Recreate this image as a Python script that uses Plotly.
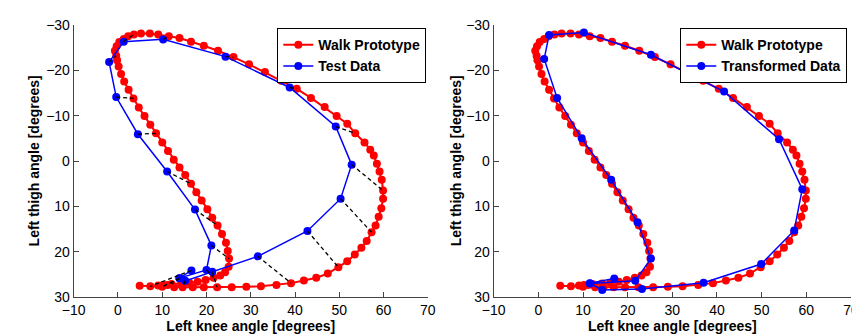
import plotly.graph_objects as go

# Walk prototype (knee angle x, thigh angle y), in time order
proto_x = [4.9, 7.3, 10.0, 12.7, 14.6, 16.9, 19.4, 22.4, 25.7, 29.0, 32.3, 35.8, 39.1, 42.0, 44.8,
           47.4, 49.8, 51.8, 53.5, 55.0, 56.2, 57.3, 58.2, 58.9, 59.5, 59.9, 59.9, 59.6, 59.1, 58.5,
           57.8, 57.0, 55.7, 53.6, 51.8, 49.4, 46.7, 43.6, 40.4, 36.9, 33.2, 29.6, 26.1, 22.6, 19.4,
           16.5, 13.9, 11.5, 9.1, 7.2, 5.2, 3.6, 2.3, 1.3, 0.3, -0.3, -0.7, -0.4, -0.2, 0.15,
           0.7, 1.4, 2.4, 3.5, 4.7, 6.0, 7.3, 8.6, 10.0, 11.3, 12.6, 13.9, 15.2, 16.5, 17.7,
           18.9, 20.2, 21.3, 22.5, 23.5, 24.4, 24.8, 25.1, 25.0, 24.2, 23.1, 21.6, 19.8, 18.0, 16.1,
           14.3, 12.1, 11.2, 10.2, 9.1]
proto_y = [27.5, 27.6, 27.7, 27.8, 27.8, 27.8, 27.8, 27.8, 27.8, 27.7, 27.6, 27.3, 26.9, 26.3, 25.7,
           24.8, 23.4, 22.1, 20.6, 19.1, 17.6, 15.7, 14.2, 12.3, 10.4, 8.3, 6.5, 4.1, 2.3, 0.6,
           -1.2, -2.5, -4.1, -6.1, -8.2, -9.9, -11.9, -13.9, -15.9, -17.7, -19.6, -21.3, -22.9, -24.3, -25.4,
           -26.3, -27.1, -27.5, -27.9, -28.1, -28.1, -27.9, -27.5, -26.9, -26.2, -25.3, -24.3, -23.2, -22.2, -20.8,
           -19.2, -17.5, -15.7, -13.8, -11.8, -9.9, -8.0, -6.1, -4.1, -2.2, -0.3, 1.4, 3.1, 5.0, 6.9,
           8.7, 10.6, 12.5, 14.2, 16.1, 18.0, 19.8, 21.5, 23.3, 24.5, 25.2, 25.7, 26.2, 26.6, 26.8,
           27.0, 27.1, 27.3, 27.3, 27.4]

# Test data (left panel)
test_x = [16.6, 13.9, 15.2, 21.3, 31.6, 42.8, 50.3, 52.8, 49.2, 38.8, 24.3, 10.2, 1.3, -2.0, -0.4,
          4.5, 11.1, 17.4, 21.1, 20.0, 13.9]
test_y = [24.1, 25.8, 26.4, 24.4, 21.0, 15.4, 8.3, 0.8, -7.6, -16.2, -23.0, -26.8, -26.3, -21.8, -14.1,
          -5.9, 2.3, 10.7, 18.6, 24.0, 25.8]
# prototype index matched to each test point (dashed correspondences)
match_idx = [1, 2, 4, 7, 12, 16, 21, 26, 33, 38, 42, 47, 51, 57, 63, 67, 73, 78, 82, 86, 91]

# Transformed data (right panel)
trans_x = [17.0, 11.5, 14.3, 23.2, 37.0, 49.9, 57.3, 59.1, 53.9, 41.6, 25.2, 10.2, 2.4, 1.3, 4.2,
           9.7, 16.3, 22.2, 25.2, 21.7, 11.6]
trans_y = [25.9, 26.9, 28.4, 28.2, 26.8, 22.7, 15.3, 6.2, -4.8, -15.3, -23.4, -28.3, -27.75, -22.5, -13.9,
           -5.0, 4.1, 13.5, 21.5, 26.4, 27.0]

x_ticks = [-10, 0, 10, 20, 30, 40, 50, 60, 70]
y_ticks = [-30, -20, -10, 0, 10, 20, 30]
x_title = "Left knee angle [degrees]"
y_title = "Left thigh angle [degrees]"

RED = "#ff0000"
BLUE = "#0000ff"
FONT = "Liberation Sans"
FS = 14

fig = go.Figure()

def add_proto(xa, ya, legend):
    fig.add_trace(go.Scatter(x=proto_x, y=proto_y, mode="lines+markers", name="<b>Walk Prototype</b>",
                             line=dict(color=RED, width=2), marker=dict(color=RED, size=8),
                             xaxis=xa, yaxis=ya, legend=legend))

add_proto("x", "y", "legend")
fig.add_trace(go.Scatter(x=test_x, y=test_y, mode="lines+markers", name="<b>Test Data</b>",
                         line=dict(color=BLUE, width=1.5), marker=dict(color=BLUE, size=8),
                         xaxis="x", yaxis="y", legend="legend"))
dx, dy = [], []
for i, j in enumerate(match_idx):
    dx += [test_x[i], proto_x[j], None]
    dy += [test_y[i], proto_y[j], None]
fig.add_trace(go.Scatter(x=dx, y=dy, mode="lines", line=dict(color="black", width=1.3, dash="4px,3px"),
                         showlegend=False, xaxis="x", yaxis="y"))

add_proto("x2", "y2", "legend2")
fig.add_trace(go.Scatter(x=trans_x, y=trans_y, mode="lines+markers", name="<b>Transformed Data</b>",
                         line=dict(color=BLUE, width=1.5), marker=dict(color=BLUE, size=8),
                         xaxis="x2", yaxis="y2", legend="legend2"))

tf = dict(family=FONT, size=FS, color="black")
axis_common = dict(showline=True, linecolor="#444444", linewidth=1, ticks="inside", ticklen=5,
                   tickcolor="#444444", showgrid=False, zeroline=False,
                   tickfont=tf, mirror=False, tickprefix="<b>", ticksuffix="</b>")
xa = dict(axis_common, range=[-10, 70], tickvals=x_ticks,
          title=dict(text="<b>" + x_title + "</b>", font=tf, standoff=0))
ya = dict(axis_common, range=[30, -30], tickvals=y_ticks)

ydom = [1 - 295.3 / 335, 1 - 9.3 / 335]
leg = dict(y=1 - 12.7 / 335, xanchor="right", yanchor="top",
           bgcolor="white", bordercolor="black", borderwidth=1,
           font=tf, tracegroupgap=0, itemwidth=30)
annotations = []
for cx in (14, 446):
    annotations.append(dict(text="<b>" + y_title + "</b>", x=cx / 860, y=1 - 152 / 335, xref="paper", yref="paper",
                            xanchor="center", yanchor="middle", showarrow=False, font=tf, textangle=-90))
fig.update_layout(
    width=860, height=335,
    margin=dict(l=0, r=0, t=0, b=0),
    plot_bgcolor="white", paper_bgcolor="white",
    xaxis=dict(xa, domain=[55 / 860, 417.5 / 860], anchor="y"),
    yaxis=dict(ya, domain=ydom, anchor="x"),
    xaxis2=dict(xa, domain=[485 / 860, 850.7 / 860], anchor="y2"),
    yaxis2=dict(ya, domain=ydom, anchor="x2"),
    legend=dict(leg, x=416 / 860),
    legend2=dict(leg, x=847 / 860),
    annotations=annotations,
    font=tf,
)

fig.write_html("out.html")
